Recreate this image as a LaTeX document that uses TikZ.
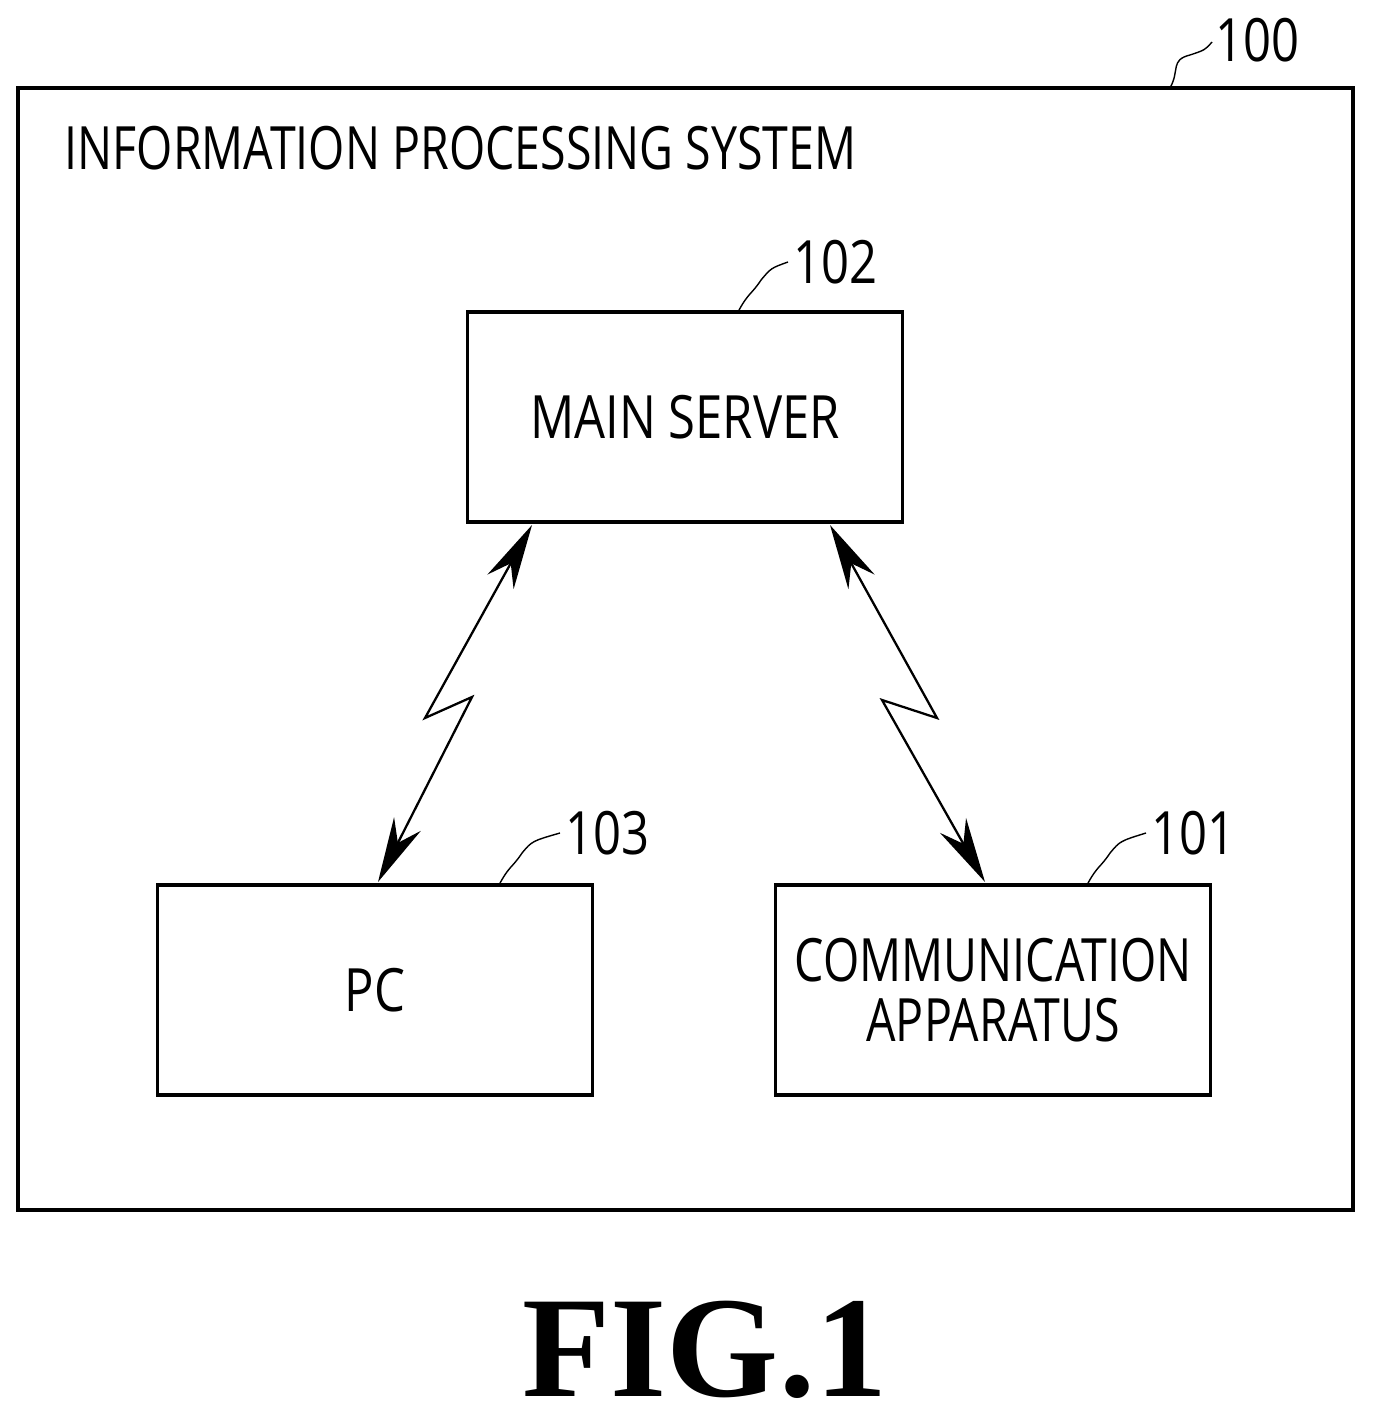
\documentclass[tikz,border=0pt]{standalone}
\usepackage{fontspec}
\setmainfont{Open Sans}
\newfontfamily\figfont{Liberation Serif}
\usetikzlibrary{arrows.meta}
\begin{document}
\begin{tikzpicture}[x=0.02cm,y=-0.02cm,
 box/.style={draw,line width=2.2pt,minimum width=8.7cm,minimum height=4.2cm,inner sep=0pt,font=\fontsize{34}{40}\selectfont,align=center},
 lbl/.style={font=\fontsize{34}{40}\selectfont,xscale=0.82,anchor=west},
 sq/.style={line width=0.8pt},
 arr/.style={line width=1.3pt,{Stealth[length=1.3cm,width=0.6cm]}-{Stealth[length=1.3cm,width=0.6cm]}}]
\useasboundingbox (0,0) rectangle (1377,1425);
\draw[line width=2.2pt] (18,88) rectangle (1353,1210);
\node[lbl,xscale=0.95] (title) at (60,148) {INFORMATION PROCESSING SYSTEM};
\node[lbl] (n100) at (1210,40) {100};
\coordinate (c100) at (1170,88);
\draw[sq] (c100) .. controls (1180,70) and (1170,60) .. (1190,55) .. controls (1205,50) .. (1212,42);
\node[box] (ms) at (685,417) {\scalebox{0.82}[1]{MAIN SERVER}};
\node[box] (pc) at (375,990) {\scalebox{0.82}[1]{PC}};
\node[box] (ca) at (993,990) {\scalebox{0.78}[1]{COMMUNICATION}\\[-6pt]\scalebox{0.78}[1]{APPARATUS}};
\node[lbl] (n102) at (788,262) {102};
\node[lbl] (n103) at (560,833) {103};
\node[lbl] (n101) at (1146,833) {101};
\draw[sq] ([xshift=1.08cm]ms.north) .. controls +(10,-18) and +(-10,15) .. ++(22,-30) .. controls +(10,-12) .. (n102.west);
\draw[sq] ([xshift=2.5cm]pc.north) .. controls +(10,-18) and +(-10,15) .. ++(22,-30) .. controls +(10,-12) .. (n103.west);
\draw[sq] ([xshift=1.9cm]ca.north) .. controls +(10,-18) and +(-10,15) .. ++(22,-30) .. controls +(10,-12) .. (n101.west);
\draw[arr] (532,525) -- (425,718) -- (472,697) -- (378,882);
\draw[arr] (830,525) -- (937,718) -- (882,700) -- (985,882);
\node[font=\figfont\bfseries\fontsize{82}{86}\selectfont,inner sep=0pt] (fig) at (705,1350) {FIG.1};
\end{tikzpicture}
\end{document}
